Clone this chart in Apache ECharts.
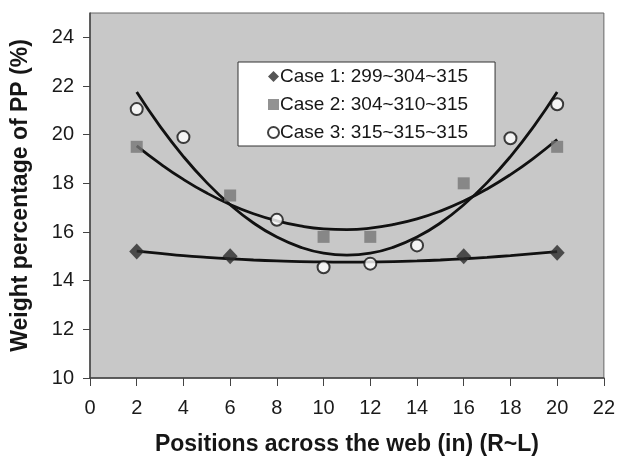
<!DOCTYPE html>
<html>
<head>
<meta charset="utf-8">
<script src="https://cdn.jsdelivr.net/npm/echarts@6/dist/echarts.min.js"></script>
<style>
  html, body { margin: 0; padding: 0; background: #fff; }
  #chart { width: 618px; height: 461px; }
</style>
</head>
<body>
<div id="chart"></div>
<script>
// measured points
const case1X = [2, 6, 16, 20];
const case1Y = [15.2, 15.0, 15.0, 15.15];
const case2X = [2, 6, 10, 12, 16, 20];
const case2Y = [19.5, 17.5, 15.8, 15.8, 18.0, 19.5];
const case3X = [2, 4, 8, 10, 12, 14, 18, 20];
const case3Y = [21.05, 19.9, 16.5, 14.55, 14.7, 15.45, 19.85, 21.25];

// trendline curves, one value per inch
const trendX = [2, 3, 4, 5, 6, 7, 8, 9, 10, 11, 12, 13, 14, 15, 16, 17, 18, 19, 20];
const trend1Y = [15.21, 15.12, 15.03, 14.96, 14.9, 14.85, 14.81, 14.78, 14.77, 14.76,
                 14.77, 14.78, 14.81, 14.85, 14.9, 14.96, 15.03, 15.11, 15.19];
const trend2Y = [19.54, 18.81, 18.16, 17.6, 17.13, 16.75, 16.46, 16.25, 16.13, 16.1,
                 16.16, 16.31, 16.54, 16.86, 17.27, 17.77, 18.36, 19.04, 19.8];
const trend3Y = [21.75, 20.34, 19.1, 18.03, 17.12, 16.37, 15.79, 15.38, 15.13, 15.05,
                 15.13, 15.38, 15.79, 16.37, 17.12, 18.03, 19.1, 20.34, 21.75];

const yTicks = [10, 12, 14, 16, 18, 20, 22, 24];
const legendNames = ['Case 1: 299~304~315', 'Case 2: 304~310~315', 'Case 3: 315~315~315'];

const pairs = (xs, ys) => xs.map((x, i) => [x, ys[i]]);
const font = 'Liberation Sans, Arial, sans-serif';

const chart = echarts.init(document.getElementById('chart'));

const trendLine = (ys) => ({
  type: 'line',
  data: pairs(trendX, ys),
  smooth: true,
  symbol: 'none',
  lineStyle: { color: '#111', width: 2.8 },
  z: 2,
  silent: true
});

chart.setOption({
  animation: false,
  grid: {
    left: 90, right: 13, top: 13, bottom: 83,
    show: true,
    backgroundColor: '#c8c8c8',
    borderColor: '#666',
    borderWidth: 1
  },
  legend: {
    data: legendNames,
    orient: 'vertical',
    left: 238,
    top: 62,
    width: 260,
    padding: [5, 27, 4, 29],
    itemGap: 9,
    itemWidth: 11,
    itemHeight: 11,
    backgroundColor: '#fff',
    borderColor: '#333',
    borderWidth: 1,
    textStyle: { fontFamily: font, fontSize: 19, color: '#161616', padding: [0, 0, 0, -4] }
  },
  xAxis: {
    type: 'value',
    min: 0, max: 22, interval: 2,
    name: 'Positions across the web (in) (R~L)',
    nameLocation: 'middle',
    nameGap: 55,
    nameTextStyle: { fontFamily: font, fontWeight: 'bold', fontSize: 23, color: '#161616' },
    axisLine: { lineStyle: { color: '#444', width: 1.5 } },
    axisTick: { inside: false, length: 8, lineStyle: { color: '#444' } },
    axisLabel: { fontFamily: font, fontSize: 20, color: '#1a1a1a', margin: 20 },
    splitLine: { show: false }
  },
  yAxis: {
    type: 'value',
    min: 10, max: 25, interval: 2,
    name: 'Weight percentage of PP (%)',
    nameLocation: 'middle',
    nameGap: 58,
    nameTextStyle: { fontFamily: font, fontWeight: 'bold', fontSize: 23, color: '#161616' },
    axisLine: { show: true, lineStyle: { color: '#444', width: 1.5 } },
    axisTick: { show: true, length: 7, lineStyle: { color: '#444' }, customValues: yTicks },
    axisLabel: { fontFamily: font, fontSize: 20, color: '#1a1a1a', margin: 16, customValues: yTicks },
    splitLine: { show: false }
  },
  series: [
    trendLine(trend1Y),
    trendLine(trend2Y),
    trendLine(trend3Y),
    {
      name: legendNames[0],
      type: 'scatter',
      data: pairs(case1X, case1Y),
      symbol: 'diamond',
      symbolSize: [15, 16],
      itemStyle: { color: '#2a2a2a' },
      z: 5
    },
    {
      name: legendNames[1],
      type: 'scatter',
      data: pairs(case2X, case2Y),
      symbol: 'rect',
      symbolSize: 12,
      itemStyle: { color: '#777' },
      z: 5
    },
    {
      name: legendNames[2],
      type: 'scatter',
      data: pairs(case3X, case3Y),
      symbol: 'circle',
      symbolSize: 12,
      itemStyle: { color: '#fff', borderColor: '#111', borderWidth: 2 },
      z: 6
    }
  ]
});
</script>
</body>
</html>
